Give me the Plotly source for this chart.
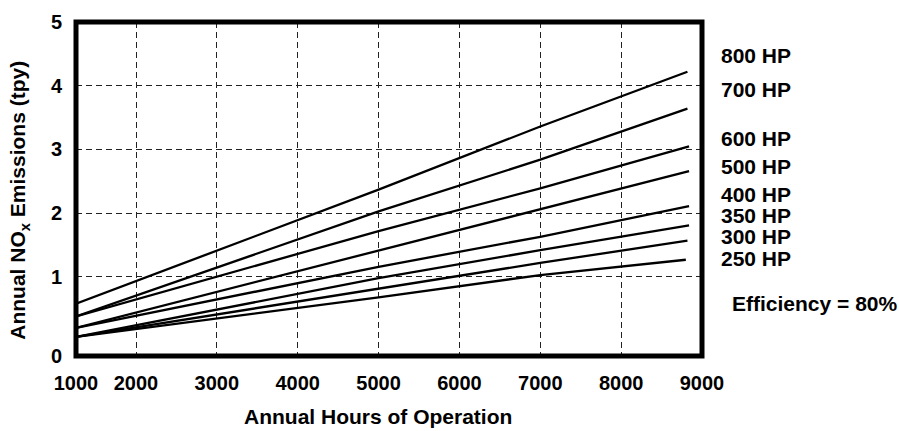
import plotly.graph_objects as go

# Engine sizes (HP) and annual NOx emissions (tpy) vs annual hours of operation
HP_LABELS = ["800 HP", "700 HP", "600 HP", "500 HP", "400 HP", "350 HP", "300 HP", "250 HP"]

HOURS_800 = [1258, 5000, 7000, 8820]
NOX_800 = [0.58, 2.37, 3.36, 4.22]

HOURS_700 = [1258, 5000, 7000, 8820]
NOX_700 = [0.38, 2.03, 2.84, 3.64]

HOURS_600 = [1258, 5000, 7000, 8840]
NOX_600 = [0.38, 1.72, 2.39, 3.05]

HOURS_500 = [1258, 5000, 7000, 8840]
NOX_500 = [0.20, 1.41, 2.06, 2.66]

HOURS_400 = [1258, 5000, 7000, 8840]
NOX_400 = [0.20, 1.16, 1.63, 2.11]

HOURS_350 = [1258, 5000, 7000, 8840]
NOX_350 = [0.06, 0.98, 1.42, 1.81]

HOURS_300 = [1258, 5000, 7000, 8820]
NOX_300 = [0.06, 0.82, 1.22, 1.57]

HOURS_250 = [1258, 5000, 7000, 8800]
NOX_250 = [0.06, 0.68, 1.03, 1.27]

SERIES = [
    (HOURS_800, NOX_800), (HOURS_700, NOX_700), (HOURS_600, NOX_600),
    (HOURS_500, NOX_500), (HOURS_400, NOX_400), (HOURS_350, NOX_350),
    (HOURS_300, NOX_300), (HOURS_250, NOX_250),
]

# Axis ticks (the origin corner carries the first label of each axis)
X_TICK_VALUES = [1258, 2000, 3000, 4000, 5000, 6000, 7000, 8000, 9000]
X_TICK_LABELS = ["1000", "2000", "3000", "4000", "5000", "6000", "7000", "8000", "9000"]
Y_TICK_VALUES = [-0.24, 1, 2, 3, 4, 5]
Y_TICK_LABELS = ["0", "1", "2", "3", "4", "5"]

# Heights (in axis units) of the curve labels at the right of the plot
LABEL_Y = [4.47, 3.94, 3.18, 2.74, 2.29, 1.96, 1.63, 1.29]

FONT = "Liberation Sans, Arial, Helvetica, sans-serif"

fig = go.Figure()
for hours, nox in SERIES:
    fig.add_trace(go.Scatter(
        x=hours, y=nox, mode="lines",
        line=dict(color="black", width=2.3),
        showlegend=False, hoverinfo="skip",
    ))

for label, ly in zip(HP_LABELS, LABEL_Y):
    fig.add_annotation(
        text=f"<b>{label}</b>", xref="paper", yref="y",
        x=1.027, y=ly, xanchor="left", yanchor="middle",
        showarrow=False, font=dict(family=FONT, size=21, color="black"),
    )

fig.add_annotation(
    text="<b>Efficiency = 80%</b>", xref="paper", yref="y",
    x=1.044, y=0.59, xanchor="left", yanchor="middle",
    showarrow=False, font=dict(family=FONT, size=21, color="black"),
)

# Axis titles
fig.add_annotation(
    text="<b>Annual Hours of Operation</b>", xref="paper", yref="paper",
    x=0.482, y=-0.18, xanchor="center", yanchor="middle",
    showarrow=False, font=dict(family=FONT, size=21, color="black"),
)
fig.add_annotation(
    text="<b>Annual NO<sub>x</sub> Emissions (tpy)</b>", xref="paper", yref="paper",
    x=-0.091, y=0.465, xanchor="center", yanchor="middle", textangle=-90,
    showarrow=False, font=dict(family=FONT, size=21, color="black"),
)

# Heavy frame around the plotting area
fig.add_shape(
    type="rect", xref="x domain", yref="y domain",
    x0=0, x1=1, y0=0, y1=1,
    line=dict(color="black", width=5), layer="above",
)

grid_style = dict(showgrid=True, gridcolor="#222222", gridwidth=1.3, griddash="6px,4px")

fig.update_xaxes(
    range=[1258, 9000], tickvals=X_TICK_VALUES, ticktext=X_TICK_LABELS,
    ticks="", showline=False, zeroline=False, ticklabelstandoff=13,
    tickfont=dict(family=FONT, size=20, color="black", weight="bold"),
    **grid_style,
)
fig.update_yaxes(
    range=[-0.24, 5.0], tickvals=Y_TICK_VALUES, ticktext=Y_TICK_LABELS,
    ticks="", showline=False, zeroline=False, ticklabelstandoff=13,
    tickfont=dict(family=FONT, size=20, color="black", weight="bold"),
    **grid_style,
)

fig.update_layout(
    width=899, height=431,
    margin=dict(l=76, r=197, t=22, b=75, autoexpand=False),
    paper_bgcolor="white", plot_bgcolor="white",
    font=dict(family=FONT, color="black"),
)

fig.write_html("out.html")
